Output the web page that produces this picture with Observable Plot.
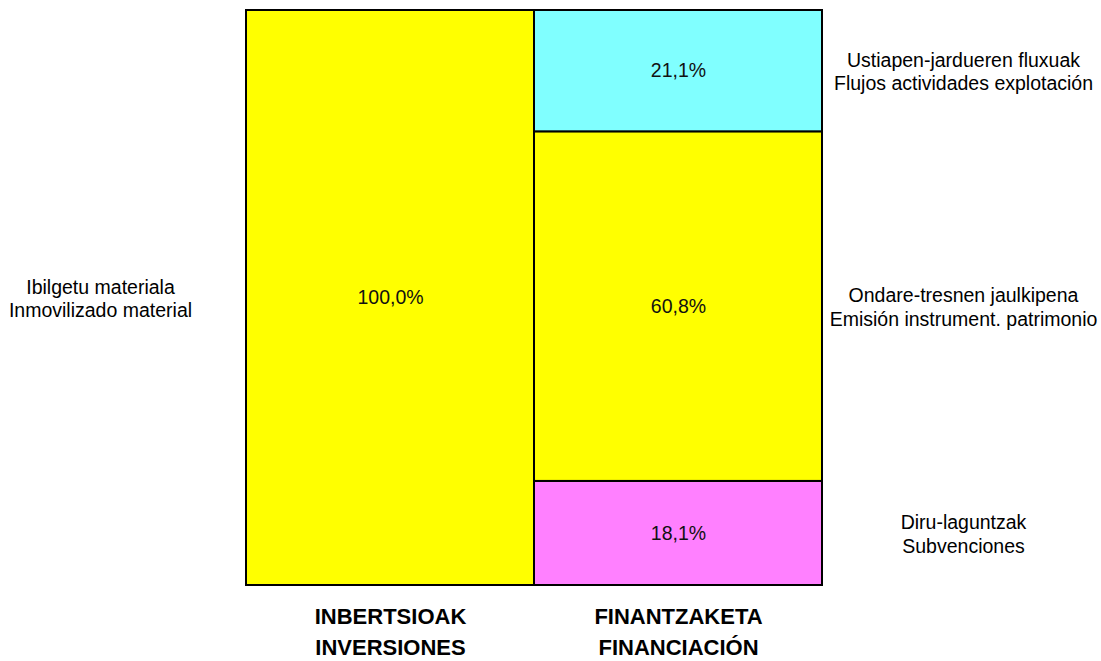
<!DOCTYPE html>
<html>
<head>
<meta charset="utf-8">
<script src="https://cdn.jsdelivr.net/npm/d3@7"></script>
<script src="https://cdn.jsdelivr.net/npm/@observablehq/plot@0.6"></script>
<style>
  html, body { margin: 0; padding: 0; background: #fff; }
  #chart svg { display: block; }
</style>
</head>
<body>
<div id="chart"></div>
<script>
const groups = ["INBERTSIOAK", "FINANTZAKETA"];
const groupLabels = ["INBERTSIOAK\nINVERSIONES", "FINANTZAKETA\nFINANCIACIÓN"];
const segGroup = ["INBERTSIOAK", "FINANTZAKETA", "FINANTZAKETA", "FINANTZAKETA"];
const segNames = [
  "Ibilgetu materiala\nInmovilizado material",
  "Diru-laguntzak\nSubvenciones",
  "Ondare-tresnen jaulkipena\nEmisión instrument. patrimonio",
  "Ustiapen-jardueren fluxuak\nFlujos actividades explotación"
];
const segValues = [100.0, 18.1, 60.8, 21.1];
const segColors = ["#FFFF00", "#FF80FF", "#FFFF00", "#80FFFF"];

const data = segValues.map((v, i) => ({
  group: segGroup[i], name: segNames[i], value: v, color: segColors[i], id: i
}));
const fmt = v => v.toFixed(1).replace(".", ",") + "%";
const labelOf = new Map(groups.map((g, i) => [g, groupLabels[i]]));

const chart = Plot.plot({
  width: 1101,
  height: 661,
  marginLeft: 246,
  marginRight: 279,
  marginTop: 10,
  marginBottom: 76,
  style: { fontFamily: "'Liberation Sans', Arial, sans-serif", background: "#fff" },
  x: { domain: groups, padding: 0, label: null },
  y: { domain: [0, 100], axis: null },
  marks: [
    Plot.barY(data, { x: "group", y: "value", z: "id", fill: "color", stroke: "#000", strokeWidth: 2, inset: 0 }),
    Plot.text(data, Plot.stackY({ x: "group", y: "value", z: "id", text: d => fmt(d.value), fontSize: 19.5, fill: "#111" })),
    Plot.text(data.filter(d => d.group === groups[0]), Plot.stackY({ x: "group", y: "value", z: "id", text: "name", dx: -290, fontSize: 19.5, lineHeight: 1.2, fill: "#000" })),
    Plot.text(data.filter(d => d.group === groups[1]), Plot.stackY({ x: "group", y: "value", z: "id", text: "name", dx: 285, fontSize: 19.5, lineHeight: 1.2, fill: "#000" })),
    Plot.axisX({ tickSize: 0, tickPadding: 17, fontSize: 22, fontWeight: "bold", lineHeight: 1.4, tickFormat: g => labelOf.get(g), label: null, fill: "#000" })
  ]
});
document.getElementById("chart").appendChild(chart);
</script>
</body>
</html>
